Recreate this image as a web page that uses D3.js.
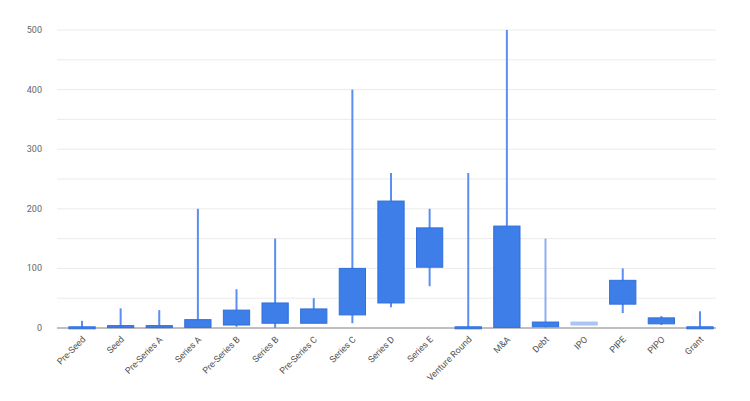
<!DOCTYPE html>
<html><head><meta charset="utf-8">
<script src="https://cdn.jsdelivr.net/npm/d3@7"></script>
<style>body{margin:0;background:#fff}</style></head>
<body><svg id="c" width="750" height="401"></svg>
<script>
const categories = ["Pre-Seed","Seed","Pre-Series A","Series A","Pre-Series B","Series B","Pre-Series C","Series C","Series D","Series E","Venture Round","M&A","Debt","IPO","PIPE","PIPO","Grant"]
const lows   = [0, 0, 0, 0, 2, 0, 8, 8, 35, 70, 0, 0, 0, 5, 25, 5, 0]
const boxLow = [0, 1, 1, 1, 5, 8, 8, 22, 42, 102, 0, 1, 2, 5, 40, 7, 0]
const boxHigh= [2, 4, 4, 14, 30, 42, 32, 100, 213, 168, 2, 171, 10, 10, 80, 17, 2]
const highs  = [12, 33, 30, 200, 65, 150, 50, 400, 260, 200, 260, 500, 150, 10, 100, 20, 28]
const yTicks = [0, 100, 200, 300, 400, 500]

const svg = d3.select("#c")
const margin = {top: 30, right: 34, bottom: 73, left: 57}
const width = 750, height = 401

const x = d3.scaleBand().domain(categories).range([62.7, 719.3]).paddingInner(0.32).paddingOuter(0.16)
const y = d3.scaleLinear().domain([0, 500]).range([height - margin.bottom, margin.top])

// grid
svg.append("g").selectAll("line").data(d3.range(0, 501, 50)).join("line")
  .attr("x1", margin.left).attr("x2", width - margin.right)
  .attr("y1", d => y(d)).attr("y2", d => y(d))
  .attr("stroke", d => d === 0 ? "#aaa" : "#ebebeb").attr("stroke-width", d => d === 0 ? 1.5 : 1)

svg.append("g").selectAll("text").data(yTicks).join("text")
  .attr("x", margin.left - 15).attr("y", d => y(d) + 3)
  .attr("text-anchor", "end").attr("font-family", "Roboto, sans-serif").attr("font-size", 9).attr("fill", "#666")
  .text(d => d)

const data = categories.map((c, i) => ({c, lo: lows[i], bl: boxLow[i], bh: boxHigh[i], hi: highs[i]}))
const g = svg.append("g")
g.selectAll("line.w").data(data).join("line")
  .attr("x1", d => x(d.c) + x.bandwidth() / 2).attr("x2", d => x(d.c) + x.bandwidth() / 2)
  .attr("y1", d => y(d.lo)).attr("y2", d => y(d.hi))
  .attr("stroke", d => d.c === "Debt" ? "#8ab0f2" : "#5a8ef0").attr("stroke-width", 2)
g.selectAll("rect").data(data).join("rect")
  .attr("x", d => x(d.c)).attr("width", x.bandwidth())
  .attr("y", d => y(d.bh)).attr("height", d => Math.max(2, y(d.bl) - y(d.bh)))
  .attr("fill", d => d.c === "IPO" ? "#a9c4f5" : "#3d7ee9")
  .attr("stroke", d => d.c === "IPO" ? "#a9c4f5" : "#2f6fde").attr("stroke-width", 1)

svg.append("g").selectAll("text").data(categories).join("text")
  .attr("transform", d => `translate(${x(d) + x.bandwidth() / 2 + 4},${height - margin.bottom + 12}) rotate(-45)`)
  .attr("text-anchor", "end").attr("font-family", "Roboto, sans-serif").attr("font-size", 9).attr("fill", "#555")
  .text(d => d)
</script></body></html>
